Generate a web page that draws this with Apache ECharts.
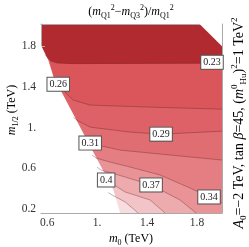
<!DOCTYPE html>
<html><head><meta charset="utf-8">
<script src="https://cdn.jsdelivr.net/npm/echarts@6/dist/echarts.min.js"></script>
<style>html,body{margin:0;padding:0;background:#fff}#c{width:249px;height:247px}</style>
</head><body><div id="c"></div>
<script>
// axis ticks
const xTicks = [0.6, 1.0, 1.4, 1.8];
const xTickLabels = ['0.6', '1.', '1.4', '1.8'];
const yTicks = [0.2, 0.6, 1.0, 1.4, 1.8];
const yTickLabels = ['0.2', '0.6', '1.', '1.4', '1.8'];

// contour levels (upper boundary of each band) [m0, m1/2]
const c023 = [[0.58,1.72],[0.63,1.655],[0.68,1.635],[0.8,1.63],[1.4,1.632],[2.0,1.633]];
const c026 = [[0.66,1.46],[0.688,1.427],[0.744,1.348],[0.808,1.271],[0.944,1.222],[1.424,1.202],[2.0,1.182]];
const c029 = [[0.81,1.10],[0.84,1.073],[0.944,1.005],[1.264,0.956],[1.512,0.936],[2.0,0.965]];
const c031 = [[0.90,0.88],[0.928,0.848],[1.04,0.818],[1.184,0.779],[1.424,0.75],[2.0,0.681]];
const c034 = [[0.96,0.73],[0.992,0.70],[1.104,0.661],[1.264,0.612],[1.504,0.534],[1.744,0.406],[1.896,0.318],[2.0,0.259]];
const c037 = [[1.00,0.61],[1.032,0.583],[1.224,0.514],[1.432,0.436],[1.664,0.288],[1.792,0.16]];
const c040 = [[1.04,0.51],[1.072,0.485],[1.224,0.367],[1.424,0.288],[1.544,0.16]];
const c043 = [[1.09,0.36],[1.12,0.337],[1.224,0.269],[1.328,0.16]];
const contours = [c023, c026, c029, c031, c034, c037, c040, c043];

// excluded regions
const wedge = [[0.55,1.81],[0.61,1.66],[0.65,1.50],[0.75,1.27],[0.96,0.78],[1.13,0.39],[1.184,0.16]];
const corner = [[1.82,2.02],[2.0,1.80]];

// contour labels
const labelX = [1.92, 0.688, 1.512, 0.944, 1.896, 1.432, 1.072];
const labelY = [1.643, 1.427, 0.936, 0.848, 0.318, 0.436, 0.485];
const labelText = ['0.23', '0.26', '0.29', '0.31', '0.34', '0.37', '0.4'];

const topColor = '#b12a2f';
const bandColors = ['#da565b','#dd6166','#e06d71','#e47e82','#e99397','#eeabae','#f3c4c7','#f8dde0'];

const FONT = 'Liberation Serif';
const series = [];
contours.forEach((c, i) => {
  series.push({type:'line', data:c, showSymbol:false, smooth:false, silent:true,
    lineStyle:{color:'rgba(90,30,30,0.5)', width:0.7},
    areaStyle:{color:bandColors[i], opacity:1, origin:'start'}});
});
series.push({type:'line', data:wedge, showSymbol:false, silent:true, lineStyle:{width:0},
  areaStyle:{color:'#fff', opacity:1, origin:'start'}});
series.push({type:'line', data:corner, showSymbol:false, silent:true, lineStyle:{width:0},
  areaStyle:{color:'#fff', opacity:1, origin:'end'}});

const axisCol = '#aaaaaa';
const rich = {
  n:{fontFamily:FONT, fontSize:12, color:'#222', lineHeight:16},
  i:{fontFamily:FONT, fontSize:12, color:'#222', fontStyle:'italic', lineHeight:16},
  sb:{fontFamily:FONT, fontSize:8, color:'#222', lineHeight:8, verticalAlign:'bottom'},
  sp:{fontFamily:FONT, fontSize:8, color:'#222', lineHeight:8, verticalAlign:'top'}
};
const richR = {
  n:{fontFamily:FONT, fontSize:14, color:'#222', lineHeight:18},
  i:{fontFamily:FONT, fontSize:14, color:'#222', fontStyle:'italic', lineHeight:18},
  sb:{fontFamily:FONT, fontSize:9, color:'#222', lineHeight:9, verticalAlign:'bottom'},
  sp:{fontFamily:FONT, fontSize:9, color:'#222', lineHeight:9, verticalAlign:'top'}
};

const chart = echarts.init(document.getElementById('c'), null, {renderer:'canvas'});
const graphics = [
    {type:'text', x:131, y:12, style:{align:'center', verticalAlign:'middle',
      text:'{n|(}{i|m}{sb|Q1}{sp|2}{n|\u2212}{i|m}{sb|Q3}{sp|2}{n|)/}{i|m}{sb|Q1}{sp|2}', rich:rich}},
    {type:'text', x:131, y:239, style:{align:'center', verticalAlign:'middle',
      text:'{i|m}{sb|0}{n| (TeV)}', rich:rich}},
    {type:'text', x:12, y:110, rotation:Math.PI/2, style:{align:'center', verticalAlign:'middle',
      text:'{i|m}{sb|1/2}{n| (TeV)}', rich:rich}},
    {type:'text', x:239, y:123, rotation:Math.PI/2, style:{align:'center', verticalAlign:'middle',
      text:'{i|A}{sb|0}{n|=\u22122 TeV, tan }{i|\u03b2}{n|=45, (}{i|m}{sp|0}{sb|Hu}{n|)}{sp|2}{n|=1 TeV}{sp|2}', rich:richR}}
];
chart.setOption({
  animation:false,
  backgroundColor:'#fff',
  grid:{left:41, right:27, top:24, bottom:34, show:true, backgroundColor:topColor, borderWidth:0},
  xAxis:[{type:'value', min:0.55, max:2.0, position:'bottom',
    axisLine:{show:true, lineStyle:{color:axisCol}},
    axisTick:{show:true, inside:true, length:4, customValues:xTicks, lineStyle:{color:axisCol}},
    axisLabel:{customValues:xTicks, margin:4, fontFamily:FONT, fontSize:11.5, color:'#333',
      formatter:v=>xTickLabels[xTicks.findIndex(t=>Math.abs(t-v)<1e-6)]},
    splitLine:{show:false}},
   {type:'value', min:0.55, max:2.0, position:'top', axisLine:{show:true, lineStyle:{color:axisCol}},
    axisTick:{show:false}, axisLabel:{show:false}, splitLine:{show:false}}],
  yAxis:[{type:'value', min:0.16, max:2.02, position:'left',
    axisLine:{show:true, lineStyle:{color:axisCol}},
    axisTick:{show:true, inside:true, length:4, customValues:yTicks, lineStyle:{color:axisCol}},
    axisLabel:{customValues:yTicks, margin:5, fontFamily:FONT, fontSize:11.5, color:'#333',
      formatter:v=>yTickLabels[yTicks.findIndex(t=>Math.abs(t-v)<1e-6)]},
    splitLine:{show:false}},
   {type:'value', min:0.16, max:2.02, position:'right', axisLine:{show:true, lineStyle:{color:axisCol}},
    axisTick:{show:false}, axisLabel:{show:false}, splitLine:{show:false}}],
  series: series,
  graphic: graphics
});
// contour labels placed through the axis scales
const labelGraphics = labelText.map((t, k) => {
  const p = chart.convertToPixel({xAxisIndex:0, yAxisIndex:0}, [labelX[k], labelY[k]]);
  return {type:'text', x:p[0], y:p[1], z:100, style:{text:t, align:'center', verticalAlign:'middle',
    fontFamily:FONT, fontSize:10, fill:'#222', backgroundColor:'#fff', borderColor:'#555', borderWidth:1,
    padding:[2,2,1,2]}};
});
chart.setOption({graphic: graphics.concat(labelGraphics)});
</script></body></html>
